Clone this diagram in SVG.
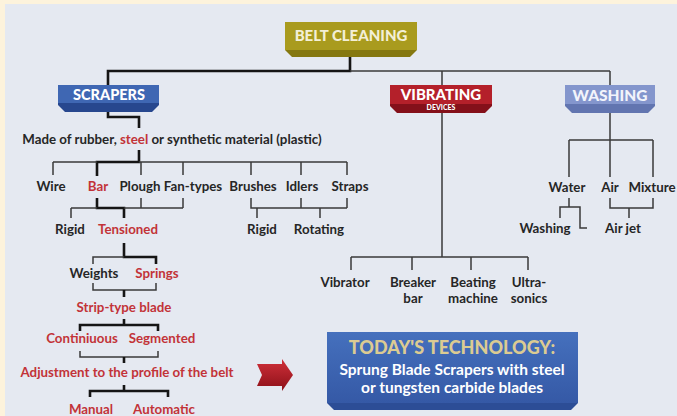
<svg xmlns="http://www.w3.org/2000/svg" width="677" height="416" viewBox="0 0 677 416">
<defs>
<linearGradient id="gBlue" x1="0" y1="0" x2="0" y2="1"><stop offset="0" stop-color="#4570bd"/><stop offset="1" stop-color="#3559a6"/></linearGradient>
<linearGradient id="gArrow" x1="0" y1="0" x2="0" y2="1"><stop offset="0" stop-color="#d0303a"/><stop offset="1" stop-color="#8c1018"/></linearGradient>
<style>
.t{font-family:Lato,"Liberation Sans",sans-serif;font-weight:700;font-size:13.3px;fill:#262626;text-anchor:middle}
.r{fill:#c23338}
.h{font-family:Lato,"Liberation Sans",sans-serif;font-weight:900;font-size:15px;fill:#fff;text-anchor:middle}
.ln{stroke:#3a3a3a;stroke-width:1.5;fill:none}
.th{stroke:#151515;stroke-width:2.6;fill:none}
</style>
</defs>
<rect x="0" y="0" width="677" height="416" fill="#fdf3dc"/>
<rect x="5" y="4" width="672" height="412" fill="#e5e9f1"/>

<g id="connectors">
<path class="th" d="M350 52V71H108V85"/>
<path class="ln" d="M350 71H610"/>
<path class="th" d="M108 112V117H139V128"/>
<path class="th" d="M139 150V162H97V176"/>
<path class="ln" d="M53 162H97M139 162H347M53 162V175M141 162V175M183 162V175M251 162V175M301 162V175M347 162V175"/>
<path class="th" d="M97 198V208H124V218"/>
<path class="ln" d="M71 208V218M71 208H97M124 208H183M141 198V208M183 198V208"/>
<path class="ln" d="M251 198V208H347M301 198V208M347 198V208M257 208V218M320 208V218"/>
<path class="th" d="M124 243V257H156V264"/>
<path class="ln" d="M124 257H93V264"/>
<path class="ln" d="M93 283V290H156V283"/>
<path class="th" d="M124 290V297"/>
<path class="th" d="M124 319V325H80V331M124 325H158V331"/>
<path class="ln" d="M80 351V357H158V351"/>
<path class="th" d="M124 357V363"/>
<path class="th" d="M124 385V391H90V397M124 391H168V397"/>
<path class="ln" d="M442 71V257M351 257H528M351 257V270M412 257V270M471 257V270M528 257V270"/>
<path class="ln" d="M610 71V177M569 140H653M569 140V177M653 140V177"/>
<path class="ln" d="M569 198V207M560 218V207H580V228H587"/>
<path class="ln" d="M610 198V208H653V198M629 208V218"/>
</g>

<g id="belt-cleaning">
<path d="M285 22H417V50L410 57H292L285 50Z" fill="#857810"/>
<rect x="285" y="22" width="132" height="28" fill="#a99b1e"/>
<text class="h" x="351" y="41" style="fill:#f3efd6">BELT CLEANING</text>
</g>

<g id="scrapers">
<path d="M58 85H159V105L152 112H65L58 105Z" fill="#27478e"/>
<rect x="58" y="85" width="101" height="18" fill="#3f67b3"/>
<text class="h" x="109" y="100" style="font-size:14.5px">SCRAPERS</text>
</g>

<g id="vibrating">
<path d="M390 85H492V106L485 113H397L390 106Z" fill="#84101a"/>
<rect x="390" y="85" width="102" height="19" fill="#b4202a"/>
<text class="h" x="441" y="100">VIBRATING</text>
<text class="h" x="441" y="110" style="font-size:7px">DEVICES</text>
</g>

<g id="washing">
<path d="M565 85H655V106L648 113H572L565 106Z" fill="#6275b0"/>
<rect x="565" y="85" width="90" height="19" fill="#8496cd"/>
<text class="h" x="610" y="101" style="fill:#f2f4fb;font-size:15.5px">WASHING</text>
</g>

<g id="material"><text class="t" x="172" y="144">Made of rubber, <tspan class="r">steel</tspan> or synthetic material (plastic)</text></g>

<g id="row1">
<text class="t" x="51" y="191">Wire</text>
<text class="t r" x="98" y="191">Bar</text>
<text class="t" x="140" y="191">Plough</text>
<text class="t" x="193" y="191">Fan-types</text>
<text class="t" x="253" y="191">Brushes</text>
<text class="t" x="302" y="191">Idlers</text>
<text class="t" x="350" y="191">Straps</text>
</g>

<g id="row2">
<text class="t" x="70" y="234">Rigid</text>
<text class="t r" x="128" y="234">Tensioned</text>
<text class="t" x="262" y="234">Rigid</text>
<text class="t" x="319" y="234">Rotating</text>
</g>

<g id="scraper-chain">
<text class="t" x="94" y="278">Weights</text>
<text class="t r" x="157" y="278">Springs</text>
<text class="t r" x="124" y="312">Strip-type blade</text>
<text class="t r" x="82" y="343">Continiuous</text>
<text class="t r" x="162" y="343">Segmented</text>
<text class="t r" x="127" y="377">Adjustment to the profile of the belt</text>
<text class="t r" x="91" y="414">Manual</text>
<text class="t r" x="164" y="414">Automatic</text>
</g>

<g id="arrow">
<path d="M257 364H282V359L293 375L282 391V386H257L262 375Z" fill="url(#gArrow)"/>
</g>

<g id="vibrating-items">
<text class="t" x="345" y="287">Vibrator</text>
<text class="t" x="413" y="287">Breaker</text>
<text class="t" x="413" y="303">bar</text>
<text class="t" x="473" y="287">Beating</text>
<text class="t" x="473" y="303">machine</text>
<text class="t" x="529" y="287">Ultra-</text>
<text class="t" x="529" y="303">sonics</text>
</g>

<g id="washing-items">
<text class="t" x="567" y="192">Water</text>
<text class="t" x="610" y="192">Air</text>
<text class="t" x="652" y="192">Mixture</text>
<text class="t" x="545" y="233">Washing</text>
<text class="t" x="623" y="233">Air jet</text>
</g>

<g id="today">
<path d="M327 332H578V403L571 410H334L327 403Z" fill="#2c4d96"/>
<rect x="327" y="332" width="251" height="71" fill="url(#gBlue)"/>
<text class="h" x="452" y="354" style="fill:#dccb92;font-size:18px">TODAY'S TECHNOLOGY:</text>
<text class="t" x="452" y="375" style="fill:#fff;font-size:15.5px">Sprung Blade Scrapers with steel</text>
<text class="t" x="452" y="393" style="fill:#fff;font-size:15.5px">or tungsten carbide blades</text>
</g>
</svg>
